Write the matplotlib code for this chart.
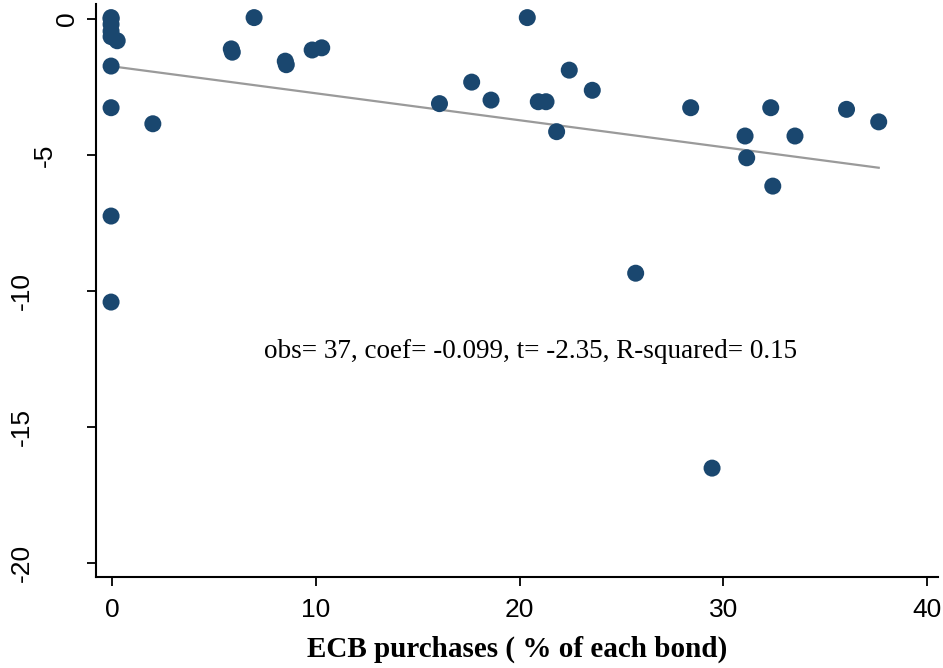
import matplotlib
matplotlib.use('Agg')
import matplotlib.pyplot as plt
import numpy as np

# ECB purchases (% of each bond) vs change (y)
ecb_share = [-0.05, -0.05, -0.05, -0.05, -0.05, 0.25, -0.05, -0.05, -0.05, -0.05,
             2.0, 5.85, 5.9, 6.97, 8.5, 8.55, 9.82, 10.29,
             16.07, 17.65, 18.6, 20.38, 20.92, 21.3, 21.82, 22.44, 23.57,
             25.7, 28.4, 29.45, 31.07, 31.15, 32.33, 32.43, 33.52,
             36.05, 37.63]
change = [0.05, -0.2, -0.45, -0.65, 0.0, -0.8, -1.73, -3.26, -7.24, -10.4,
          -3.85, -1.1, -1.22, 0.05, -1.55, -1.68, -1.14, -1.06,
          -3.11, -2.32, -2.98, 0.05, -3.04, -3.04, -4.14, -1.88, -2.62,
          -9.34, -3.26, -16.5, -4.30, -5.10, -3.26, -6.14, -4.30,
          -3.32, -3.78]

# fitted line (from the regression shown on the chart)
fit_intercept = -1.74
fit_coef = -0.099
note = 'obs= 37, coef= -0.099, t= -2.35, R-squared= 0.15'

xticks = [0, 10, 20, 30, 40]
yticks = [0, -5, -10, -15, -20]

navy = '#1a476f'

fig = plt.figure(figsize=(9.43, 6.68), dpi=100)
ax = fig.add_axes([96 / 943, 1 - 577 / 668, 842 / 943, 573 / 668])

ax.scatter(ecb_share, change, s=150, c=navy, edgecolors='none', zorder=3)

xs = np.array([min(ecb_share), max(ecb_share)])
ax.plot(xs, fit_intercept + fit_coef * xs, color='#9a9a9a', lw=1.6, zorder=2)

ax.set_xlim(-0.79, 40.54)
ax.set_ylim(-20.5, 0.55)

ax.spines['top'].set_visible(False)
ax.spines['right'].set_visible(False)
ax.spines['left'].set_linewidth(1.5)
ax.spines['bottom'].set_linewidth(1.5)

tickfont = ['Liberation Sans Narrow', 'Liberation Sans', 'DejaVu Sans']
ax.set_xticks(xticks)
ax.set_xticklabels([str(t) for t in xticks], family=tickfont, fontsize=19)
ax.set_yticks(yticks)
ax.set_yticklabels([str(t) for t in yticks], family=tickfont, fontsize=19,
                   rotation=90, va='center')
ax.tick_params(axis='both', direction='out', length=6.5, width=1.3)
ax.tick_params(axis='x', pad=8.5)

# labels sit further from the axis the longer they are
for tick, lab in zip(ax.yaxis.get_major_ticks(), yticks):
    n = len(str(lab))
    tick.set_pad(6 + 16 * (min(n, 3) - 1))

ax.set_xlabel('ECB purchases ( % of each bond)', family=['Liberation Serif'],
              fontsize=21, fontweight='bold', labelpad=10)

ax.text(20.56, -12.2, note, ha='center', va='center',
        family=['Liberation Serif'], fontsize=19.5)

fig.savefig('out.png', dpi=100)
